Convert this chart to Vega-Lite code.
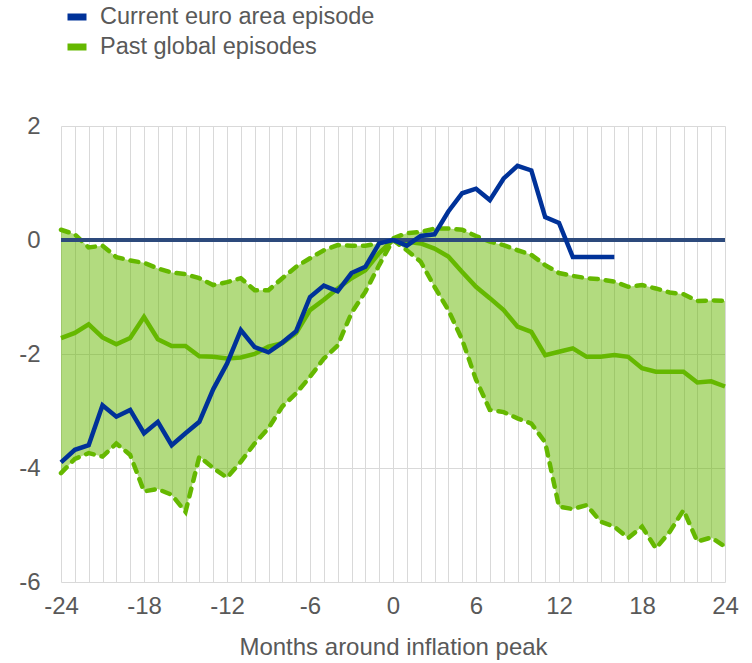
{
  "$schema": "https://vega.github.io/schema/vega-lite/v6.json",
  "width": 664,
  "height": 456,
  "autosize": {"type": "none"},
  "padding": {"left": 61, "top": 126, "right": 27, "bottom": 81},
  "background": "white",
  "config": {
    "font": "Liberation Sans",
    "view": {"stroke": null},
    "axis": {
      "gridColor": "#d9d9d9",
      "gridWidth": 1,
      "domain": false,
      "ticks": false,
      "labelFont": "Liberation Sans",
      "labelFontSize": 24,
      "labelColor": "#595959",
      "titleFont": "Liberation Sans",
      "titleFontSize": 24,
      "titleFontWeight": "normal",
      "titleColor": "#595959"
    },
    "legend": {
      "orient": "none",
      "legendX": 3,
      "legendY": -122,
      "labelFont": "Liberation Sans",
      "labelFontSize": 23.5,
      "labelColor": "#595959",
      "labelLimit": 0,
      "symbolType": "stroke",
      "symbolStrokeWidth": 7,
      "symbolSize": 361,
      "labelOffset": 10,
      "rowPadding": 2
    }
  },
  "data": {
    "values": [
      {"m": -24, "euro": -3.9, "med": -1.72, "lo": -4.09, "up": 0.18},
      {"m": -23, "euro": -3.68, "med": -1.63, "lo": -3.84, "up": 0.1},
      {"m": -22, "euro": -3.6, "med": -1.48, "lo": -3.74, "up": -0.13},
      {"m": -21, "euro": -2.9, "med": -1.71, "lo": -3.8, "up": -0.1},
      {"m": -20, "euro": -3.1, "med": -1.83, "lo": -3.57, "up": -0.3},
      {"m": -19, "euro": -2.98, "med": -1.72, "lo": -3.77, "up": -0.36},
      {"m": -18, "euro": -3.39, "med": -1.35, "lo": -4.41, "up": -0.4},
      {"m": -17, "euro": -3.19, "med": -1.74, "lo": -4.37, "up": -0.5},
      {"m": -16, "euro": -3.6, "med": -1.86, "lo": -4.47, "up": -0.57},
      {"m": -15, "euro": -3.39, "med": -1.86, "lo": -4.77, "up": -0.6},
      {"m": -14, "euro": -3.19, "med": -2.04, "lo": -3.8, "up": -0.67},
      {"m": -13, "euro": -2.62, "med": -2.05, "lo": -4.0, "up": -0.79},
      {"m": -12, "euro": -2.17, "med": -2.08, "lo": -4.17, "up": -0.74},
      {"m": -11, "euro": -1.58, "med": -2.06, "lo": -3.89, "up": -0.67},
      {"m": -10, "euro": -1.88, "med": -2.0, "lo": -3.57, "up": -0.88},
      {"m": -9, "euro": -1.97, "med": -1.87, "lo": -3.3, "up": -0.88},
      {"m": -8, "euro": -1.8, "med": -1.81, "lo": -2.92, "up": -0.67},
      {"m": -7, "euro": -1.6, "med": -1.63, "lo": -2.69, "up": -0.47},
      {"m": -6, "euro": -1.0, "med": -1.23, "lo": -2.4, "up": -0.32},
      {"m": -5, "euro": -0.8, "med": -1.05, "lo": -2.08, "up": -0.18},
      {"m": -4, "euro": -0.9, "med": -0.85, "lo": -1.85, "up": -0.09},
      {"m": -3, "euro": -0.58, "med": -0.67, "lo": -1.28, "up": -0.1},
      {"m": -2, "euro": -0.47, "med": -0.53, "lo": -0.91, "up": -0.1},
      {"m": -1, "euro": -0.06, "med": -0.23, "lo": -0.44, "up": -0.06},
      {"m": 0, "euro": 0, "med": 0, "lo": 0, "up": 0.03},
      {"m": 1, "euro": -0.1, "med": -0.03, "lo": -0.18, "up": 0.12},
      {"m": 2, "euro": 0.07, "med": -0.06, "lo": -0.38, "up": 0.14},
      {"m": 3, "euro": 0.1, "med": -0.15, "lo": -0.82, "up": 0.2},
      {"m": 4, "euro": 0.5, "med": -0.29, "lo": -1.23, "up": 0.2},
      {"m": 5, "euro": 0.82, "med": -0.56, "lo": -1.75, "up": 0.18},
      {"m": 6, "euro": 0.9, "med": -0.82, "lo": -2.45, "up": 0.07},
      {"m": 7, "euro": 0.7, "med": -1.02, "lo": -2.98, "up": -0.03},
      {"m": 8, "euro": 1.08, "med": -1.23, "lo": -3.02, "up": -0.09},
      {"m": 9, "euro": 1.3, "med": -1.52, "lo": -3.13, "up": -0.18},
      {"m": 10, "euro": 1.22, "med": -1.61, "lo": -3.22, "up": -0.26},
      {"m": 11, "euro": 0.4, "med": -2.02, "lo": -3.55, "up": -0.44},
      {"m": 12, "euro": 0.3, "med": -1.96, "lo": -4.68, "up": -0.58},
      {"m": 13, "euro": -0.3, "med": -1.9, "lo": -4.72, "up": -0.63},
      {"m": 14, "euro": -0.3, "med": -2.05, "lo": -4.65, "up": -0.67},
      {"m": 15, "euro": -0.3, "med": -2.05, "lo": -4.94, "up": -0.69},
      {"m": 16, "euro": -0.3, "med": -2.02, "lo": -5.03, "up": -0.73},
      {"m": 17, "euro": null, "med": -2.05, "lo": -5.23, "up": -0.82},
      {"m": 18, "euro": null, "med": -2.25, "lo": -5.03, "up": -0.79},
      {"m": 19, "euro": null, "med": -2.31, "lo": -5.41, "up": -0.85},
      {"m": 20, "euro": null, "med": -2.31, "lo": -5.12, "up": -0.92},
      {"m": 21, "euro": null, "med": -2.31, "lo": -4.74, "up": -0.95},
      {"m": 22, "euro": null, "med": -2.5, "lo": -5.29, "up": -1.07},
      {"m": 23, "euro": null, "med": -2.48, "lo": -5.22, "up": -1.06},
      {"m": 24, "euro": null, "med": -2.57, "lo": -5.38, "up": -1.07}
    ]
  },
  "encoding": {
    "x": {
      "field": "m",
      "type": "quantitative",
      "scale": {"domain": [-24, 24], "nice": false, "zero": false},
      "axis": {
        "values": [-24,-23,-22,-21,-20,-19,-18,-17,-16,-15,-14,-13,-12,-11,-10,-9,-8,-7,-6,-5,-4,-3,-2,-1,0,1,2,3,4,5,6,7,8,9,10,11,12,13,14,15,16,17,18,19,20,21,22,23,24],
        "labelExpr": "datum.value % 6 == 0 ? '' + datum.value : ''",
        "labelOverlap": false,
        "labelFlush": false,
        "labelBound": false,
        "labelPadding": 12,
        "title": "Months around inflation peak",
        "titlePadding": 17
      }
    }
  },
  "layer": [
    {
      "mark": {"type": "area", "color": "#65b800", "opacity": 0.5},
      "encoding": {
        "y": {
          "field": "lo",
          "type": "quantitative",
          "scale": {"domain": [-6, 2], "nice": false},
          "axis": {"values": [-6, -4, -2, 0, 2], "labelExpr": "'' + datum.value", "labelPadding": 21, "title": null}
        },
        "y2": {"field": "up"}
      }
    },
    {
      "mark": {"type": "line", "color": "#65b800", "strokeWidth": 4.5, "strokeDash": [8, 8], "strokeCap": "round"},
      "encoding": {"y": {"field": "up", "type": "quantitative"}}
    },
    {
      "mark": {"type": "line", "color": "#65b800", "strokeWidth": 4.5, "strokeDash": [8, 8], "strokeCap": "round"},
      "encoding": {"y": {"field": "lo", "type": "quantitative"}}
    },
    {
      "mark": {"type": "line", "strokeWidth": 4.5},
      "encoding": {
        "y": {"field": "med", "type": "quantitative"},
        "color": {
          "datum": "Past global episodes",
          "type": "nominal",
          "scale": {"domain": ["Current euro area episode", "Past global episodes"], "range": ["#003299", "#65b800"]},
          "legend": {"title": null}
        }
      }
    },
    {
      "mark": {"type": "rule", "color": "#2d4a7c", "strokeWidth": 4},
      "encoding": {"y": {"datum": 0, "type": "quantitative"}, "x": {"value": 0}, "x2": {"value": 664}}
    },
    {
      "transform": [{"filter": "datum.euro != null"}],
      "mark": {"type": "line", "strokeWidth": 4.5},
      "encoding": {
        "y": {"field": "euro", "type": "quantitative"},
        "color": {"datum": "Current euro area episode", "type": "nominal"}
      }
    }
  ]
}
